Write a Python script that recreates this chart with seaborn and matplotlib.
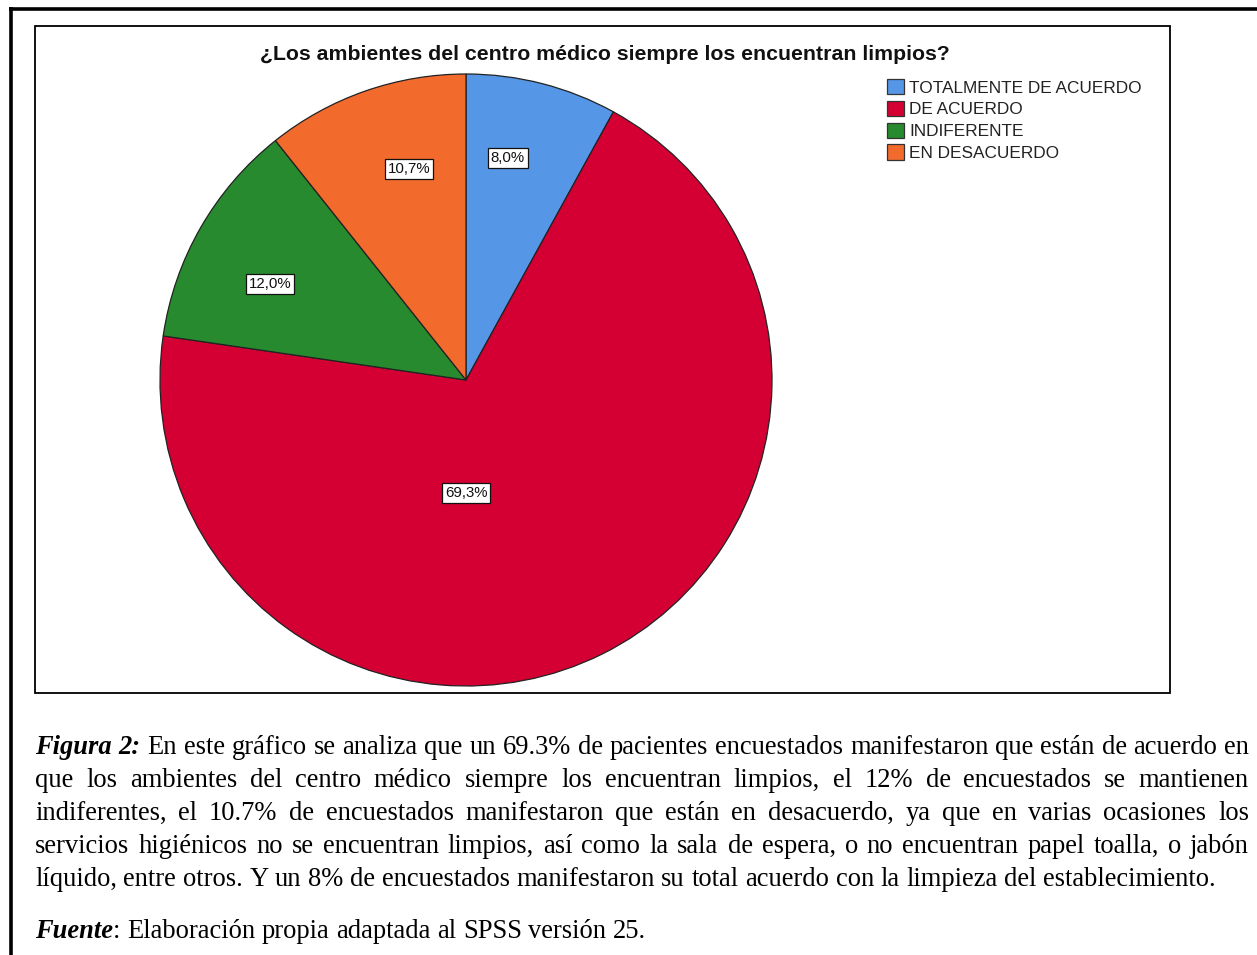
import matplotlib
matplotlib.use("Agg")
import matplotlib.pyplot as plt
import matplotlib.patches as mpatches
from matplotlib.lines import Line2D
from matplotlib.transforms import IdentityTransform
import seaborn as sns

# Survey answers and their shares (%)
categories = ["TOTALMENTE DE ACUERDO", "DE ACUERDO", "INDIFERENTE", "EN DESACUERDO"]
shares = [8.0, 69.3, 12.0, 10.7]
colors = ["#5596E6", "#D40033", "#288A2E", "#F36A2D"]

title = "¿Los ambientes del centro médico siempre los encuentran limpios?"

caption_lines = [
    "**Figura 2:** En este gráfico se analiza que un 69.3% de pacientes encuestados manifestaron que están de acuerdo en",
    "que los ambientes del centro médico siempre los encuentran limpios, el 12% de encuestados se mantienen",
    "indiferentes, el 10.7% de encuestados manifestaron que están en desacuerdo, ya que en varias ocasiones los",
    "servicios higiénicos no se encuentran limpios, así como la sala de espera, o no encuentran papel toalla, o jabón",
    "líquido, entre otros. Y un 8% de encuestados manifestaron su total acuerdo con la limpieza del establecimiento.",
]
source_line = "**Fuente**: Elaboración propia adaptada al SPSS versión 25."

sns.set_theme(style="white")
plt.rcParams["font.family"] = ["Liberation Sans", "DejaVu Sans"]

W, H = 1257, 955
fig = plt.figure(figsize=(W / 100, H / 100), dpi=100)
fig.patch.set_facecolor("white")


def fx(px):
    return px / W


def fy(py):
    return 1 - py / H


# Outer page frame (top and left edges) and inner chart frame
fig.add_artist(Line2D([fx(9), fx(W)], [fy(9), fy(9)], color="black", lw=2.6,
                      solid_capstyle="butt", transform=fig.transFigure))
fig.add_artist(Line2D([fx(11), fx(11)], [fy(7.5), fy(H)], color="black", lw=2.6,
                      solid_capstyle="butt", transform=fig.transFigure))
fig.add_artist(mpatches.Rectangle((fx(35), fy(693)), fx(1170) - fx(35), fy(26) - fy(693),
                                  fill=False, edgecolor="black", lw=1.3, transform=fig.transFigure))

# Pie
cx, cy, r = 466, 380, 306
ax = fig.add_axes([fx(cx - r), fy(cy + r), 2 * r / W, 2 * r / H])
wedges, _ = ax.pie(shares, colors=colors, startangle=90, counterclock=False, radius=1,
                   wedgeprops=dict(edgecolor="#222222", linewidth=0.9))
ax.set_xlim(-1, 1)
ax.set_ylim(-1, 1)
ax.axis("off")

label_pos = [(0.137, 0.725), (0.0, -0.369), (-0.640, 0.314), (-0.186, 0.690)]
for v, (lx, ly) in zip(shares, label_pos):
    ax.text(lx, ly, f"{v:.1f}".replace(".", ",") + "%", ha="center", va="center",
            fontsize=10.8, color="#111111",
            bbox=dict(boxstyle="square,pad=0.2", facecolor="white", edgecolor="#111111", lw=0.9))

fig.text(fx(605), fy(55), title, ha="center", va="center", fontsize=15.3, fontweight="bold",
         color="#111111")

handles = [mpatches.Patch(facecolor=c, edgecolor="#333333", lw=0.9) for c in colors]
fig.legend(handles, categories, loc="upper left", bbox_to_anchor=(fx(887), fy(79)),
           frameon=False, fontsize=12.4, handlelength=1.0, handleheight=1.0,
           handletextpad=0.3, labelspacing=0.30, borderpad=0, borderaxespad=0,
           labelcolor="#222222")

# Justified caption text
serif = ["Liberation Serif", "DejaVu Serif"]
cap_size = 19.1
renderer = fig.canvas.get_renderer()


def tokenize(line):
    words = []
    bold = False
    for w in line.split(" "):
        parts = w.split("**")
        runs = []
        for i, p in enumerate(parts):
            if i > 0:
                bold = not bold
            if p:
                runs.append((p, bold))
        words.append(runs)
    return words


def run_width(text, bold):
    t = fig.text(0, 0, text, fontsize=cap_size, family=serif,
                 fontweight="bold" if bold else "normal",
                 fontstyle="italic" if bold else "normal", transform=IdentityTransform())
    wdt = t.get_window_extent(renderer).width
    t.remove()
    return wdt


space_w = run_width("a a", False) - 2 * run_width("a", False)


def draw_line(line, x0, x1, ypx, justify):
    words = tokenize(line)
    widths = [[run_width(t, b) for t, b in runs] for runs in words]
    total = sum(sum(ws) for ws in widths)
    gap = (x1 - x0 - total) / (len(words) - 1) if justify and len(words) > 1 else space_w
    x = x0
    for runs, ws in zip(words, widths):
        for (t, b), wdt in zip(runs, ws):
            fig.text(x, H - ypx, t, fontsize=cap_size, family=serif, color="black",
                     fontweight="bold" if b else "normal",
                     fontstyle="italic" if b else "normal",
                     ha="left", va="baseline", transform=IdentityTransform())
            x += wdt
        x += gap


baselines = [754, 787, 820, 853, 886]
for i, (line, yb) in enumerate(zip(caption_lines, baselines)):
    draw_line(line, 35, 1249, yb, justify=(i < len(caption_lines) - 1))
draw_line(source_line, 35, 1249, 938, justify=False)

fig.savefig("out.png", dpi=100, facecolor="white")
